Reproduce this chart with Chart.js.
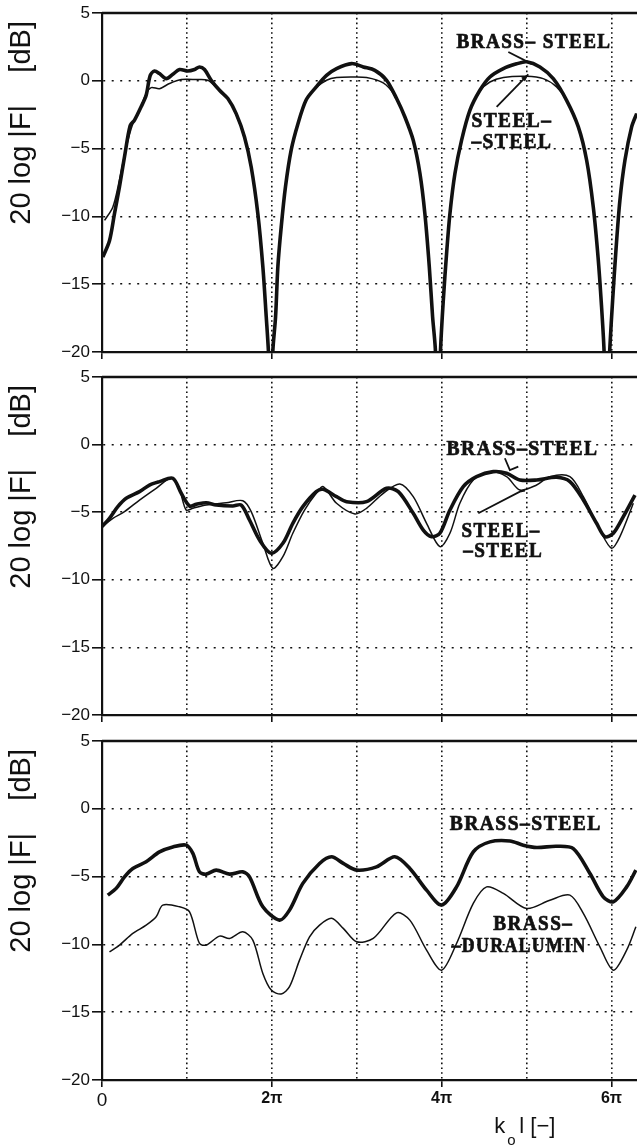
<!DOCTYPE html>
<html>
<head>
<meta charset="utf-8">
<script src="https://cdn.jsdelivr.net/npm/chart.js@4.4.1/dist/chart.umd.min.js"></script>
<style>
  html, body { margin: 0; padding: 0; background: #fff; }
  body { position: relative; width: 637px; height: 1146px; overflow: hidden; }
  canvas { position: absolute; left: 0; }
</style>
</head>
<body>
<canvas id="panel1" width="637" height="366" style="top:0px"></canvas>
<canvas id="panel2" width="637" height="367" style="top:362px"></canvas>
<canvas id="panel3" width="637" height="420" style="top:726px"></canvas>
<script>
// x values are k0*l expressed in units of pi
const xTickLabels = ['0', '', '2π', '', '4π', '', '6π'];
const yTicks = [5, 0, -5, -10, -15, -20];

// panel 1
const p1BrassSteelX = [0.01,0.088,0.147,0.206,0.265,0.332,0.383,0.462,0.52,0.568,0.618,0.677,0.756,0.834,0.913,1.01,1.09,1.148,1.207,1.286,1.384,1.482,1.58,1.678,1.757,1.835,1.894,1.934,1.961,1.99,2.012,2.044,2.071,2.11,2.161,2.228,2.306,2.405,2.523,2.644,2.762,2.939,3.077,3.213,3.351,3.469,3.567,3.665,3.744,3.802,3.854,3.893,3.925,3.955,3.987,4.019,4.058,4.097,4.156,4.234,4.332,4.45,4.568,4.726,4.882,5.0,5.157,5.314,5.471,5.609,5.707,5.785,5.844,5.883,5.91,5.945,5.981,6.013,6.052,6.099,6.158,6.237,6.296];
const p1BrassSteelY = [-13.0,-11.8,-9.8,-7.8,-5.6,-3.3,-2.9,-1.9,-1.07,0.4,0.72,0.53,0.16,0.48,0.83,0.72,0.83,1.02,0.83,0.04,-0.7,-1.31,-2.42,-4.14,-6.36,-9.8,-13.7,-17.4,-20.1,-25,-19.9,-17.4,-13.7,-10.8,-7.8,-5.1,-3.2,-1.4,-0.45,0.4,0.9,1.27,1.02,0.77,0.04,-1.31,-2.67,-4.39,-6.84,-9.8,-13.7,-17.4,-19.75,-25,-19.75,-16.2,-12.7,-9.8,-6.84,-4.39,-2.18,-0.7,0.28,0.9,1.25,1.4,1.02,0.16,-1.44,-3.4,-5.86,-9.3,-13.2,-16.7,-19.6,-25,-19.6,-16.2,-12.5,-8.8,-5.86,-3.4,-2.42];
const p1SteelSteelX = [0.03,0.128,0.206,0.285,0.363,0.442,0.52,0.58,0.677,0.795,0.933,1.11,1.246,1.345,1.482,1.58,1.678,1.757,1.835,1.894,1.934,1.961,1.99,2.012,2.044,2.071,2.11,2.161,2.228,2.306,2.405,2.523,2.644,2.762,2.939,3.116,3.312,3.43,3.567,3.665,3.744,3.802,3.854,3.893,3.925,3.955,3.987,4.019,4.058,4.097,4.156,4.234,4.332,4.45,4.568,4.726,5.0,5.196,5.353,5.471,5.609,5.707,5.785,5.844,5.883,5.91,5.945,5.981,6.013,6.052,6.099,6.158,6.237,6.296];
const p1SteelSteelY = [-10.3,-9.3,-7.3,-4.9,-3.16,-2.18,-0.95,-0.5,-0.58,-0.2,0.09,0.09,0.04,-0.5,-1.31,-2.5,-4.2,-6.4,-9.8,-13.7,-17.4,-20.1,-25,-19.9,-17.4,-13.7,-10.8,-7.8,-5.1,-3.2,-1.4,-0.5,0.04,0.24,0.28,0.24,-0.16,-0.95,-2.67,-4.39,-6.84,-9.8,-13.7,-17.4,-19.75,-25,-19.75,-16.2,-12.7,-9.8,-6.84,-4.39,-2.18,-0.75,-0.09,0.24,0.33,0.16,-0.45,-1.44,-3.4,-5.86,-9.3,-13.2,-16.7,-19.6,-25,-19.6,-16.2,-12.5,-8.8,-5.86,-3.4,-2.42];

// panel 2
const p2BrassSteelX = [0,0.088,0.186,0.285,0.442,0.559,0.677,0.834,0.933,1.031,1.11,1.227,1.345,1.541,1.64,1.737,1.855,1.993,2.13,2.247,2.365,2.523,2.605,2.762,2.88,3.115,3.351,3.489,3.665,3.783,3.881,3.979,4.097,4.254,4.411,4.608,4.764,4.921,5.118,5.353,5.51,5.668,5.824,5.922,6.021,6.139,6.276];
const p2BrassSteelY = [-6.07,-5.45,-4.59,-3.97,-3.48,-2.99,-2.74,-2.49,-3.6,-4.54,-4.42,-4.3,-4.47,-4.54,-4.47,-5.58,-7.06,-8.04,-7.3,-5.82,-4.59,-3.48,-3.31,-3.85,-4.22,-4.22,-3.23,-3.48,-5.08,-6.32,-6.81,-6.56,-4.84,-3.11,-2.37,-2.0,-2.12,-2.62,-2.62,-2.42,-2.74,-4.1,-5.82,-6.81,-6.56,-5.33,-3.73];
const p2SteelSteelX = [0,0.128,0.265,0.442,0.638,0.815,0.913,0.991,1.07,1.227,1.463,1.658,1.757,1.894,2.012,2.13,2.247,2.385,2.523,2.605,2.762,2.978,3.115,3.312,3.508,3.665,3.822,3.979,4.097,4.214,4.372,4.568,4.764,4.921,5.118,5.274,5.51,5.668,5.863,6.001,6.099,6.257];
const p2SteelSteelY = [-6.07,-5.45,-4.96,-4.1,-3.23,-2.49,-3.36,-4.84,-4.71,-4.47,-4.3,-4.15,-4.96,-7.3,-9.15,-8.29,-6.56,-4.84,-3.6,-3.11,-4.34,-5.13,-4.71,-3.6,-2.91,-3.85,-5.82,-7.55,-6.56,-4.34,-2.62,-2.0,-2.37,-3.36,-2.99,-2.37,-2.37,-3.85,-6.32,-7.67,-6.81,-4.34];

// panel 3
const p3BrassSteelX = [0.068,0.167,0.265,0.363,0.52,0.677,0.834,0.992,1.07,1.148,1.227,1.345,1.502,1.658,1.737,1.894,2.091,2.208,2.365,2.562,2.703,2.841,2.998,3.233,3.449,3.625,3.822,3.999,4.175,4.372,4.568,4.803,4.961,5.118,5.353,5.55,5.746,5.903,6.021,6.178,6.287];
const p3BrassSteelY = [-6.37,-5.87,-5.02,-4.4,-3.91,-3.18,-2.81,-2.68,-3.29,-4.65,-4.82,-4.52,-4.82,-4.65,-5.02,-7.23,-8.21,-7.47,-5.5,-4.03,-3.54,-4.03,-4.52,-4.28,-3.54,-4.4,-6.0,-7.1,-5.76,-3.18,-2.44,-2.37,-2.68,-2.85,-2.76,-2.93,-4.77,-6.49,-6.86,-5.76,-4.52];
const p3BrassDuralX = [0.088,0.206,0.363,0.52,0.638,0.716,0.913,1.031,1.148,1.227,1.384,1.502,1.658,1.776,1.894,1.993,2.11,2.208,2.326,2.444,2.562,2.703,2.841,2.998,3.194,3.469,3.625,3.822,3.999,4.175,4.372,4.529,4.726,5.0,5.274,5.51,5.668,5.863,6.021,6.178,6.287];
const p3BrassDuralY = [-10.55,-10.05,-9.19,-8.58,-7.96,-7.1,-7.23,-7.6,-9.93,-10.05,-9.39,-9.56,-9.07,-9.68,-12.14,-13.37,-13.66,-13.12,-11.16,-9.44,-8.58,-8.08,-8.82,-9.81,-9.56,-7.67,-8.21,-10.42,-11.9,-9.93,-6.98,-5.76,-6.24,-7.35,-6.74,-6.37,-7.72,-10.18,-11.9,-10.42,-8.7];

// curve labels, anchored in data units (x in pi, y in dB); w = width to fit the text into
const p1Notes = [
  { text: 'BRASS– STEEL', x: 4.175, y: 2.45, w: 155 },
  { text: 'STEEL–', x: 4.35, y: -3.43, w: 81 },
  { text: '–STEEL', x: 4.35, y: -4.98, w: 81 }
];
const p1Leaders = [
  { pts: [[4.785, 2.12], [5.06, 1.25]], arrow: false },
  { pts: [[4.647, -1.93], [5.02, 0.48]], arrow: true }
];
const p2Notes = [
  { text: 'BRASS–STEEL', x: 4.058, y: -0.77, w: 152 },
  { text: 'STEEL–', x: 4.234, y: -6.83, w: 79 },
  { text: '–STEEL', x: 4.254, y: -8.31, w: 80 }
];
const p2Leaders = [
  { pts: [[4.744, -1.01], [4.803, -1.88], [4.902, -1.63]], arrow: false },
  { pts: [[4.431, -5.08], [4.921, -3.48], [4.98, -3.4]], arrow: false }
];
const p3Notes = [
  { text: 'BRASS–STEEL', x: 4.094, y: -1.58, w: 152 },
  { text: 'BRASS–', x: 4.608, y: -8.95, w: 80 },
  { text: '–DURALUMIN', x: 4.117, y: -10.57, w: 135 }
];

const INK = '#111';
const NONE = 'rgba(0,0,0,0)';
const SANS = '"Liberation Sans", Arial, sans-serif';

const toPoints = (xs, ys) => xs.map((x, i) => ({ x: x, y: ys[i] }));
const fmtY = v => (v < 0 ? '\u2212' + Math.abs(v) : String(v));

const notesPlugin = {
  id: 'notes',
  afterDatasetsDraw(chart, args, opts) {
    const { ctx, chartArea, scales } = chart;
    const xs = scales.x, ys = scales.y;
    ctx.save();
    // solid frame line along the top of the plot
    ctx.strokeStyle = INK;
    ctx.lineWidth = 2.5;
    ctx.beginPath();
    ctx.moveTo(chartArea.left, chartArea.top);
    ctx.lineTo(chartArea.right, chartArea.top);
    ctx.stroke();

    // typewritten curve labels (a thin outline makes them read heavier, like the scan)
    ctx.fillStyle = INK;
    ctx.font = 'bold 20px "Liberation Serif", "DejaVu Serif", serif';
    ctx.textAlign = 'left';
    ctx.textBaseline = 'alphabetic';
    ctx.letterSpacing = '1.5px';
    ctx.lineWidth = 0.7;
    (opts.labels || []).forEach(n => {
      const px = xs.getPixelForValue(n.x), py = ys.getPixelForValue(n.y);
      ctx.fillText(n.text, px, py, n.w);
      ctx.strokeText(n.text, px, py, n.w);
    });
    ctx.letterSpacing = '0px';

    ctx.lineWidth = 1.8;
    (opts.leaders || []).forEach(l => {
      const p = l.pts.map(q => [xs.getPixelForValue(q[0]), ys.getPixelForValue(q[1])]);
      ctx.beginPath();
      ctx.moveTo(p[0][0], p[0][1]);
      p.slice(1).forEach(q => ctx.lineTo(q[0], q[1]));
      ctx.stroke();
      if (l.arrow) {
        const a = p[p.length - 2], b = p[p.length - 1];
        const ang = Math.atan2(b[1] - a[1], b[0] - a[0]);
        ctx.beginPath();
        ctx.moveTo(b[0], b[1]);
        ctx.lineTo(b[0] - 8 * Math.cos(ang - 0.35), b[1] - 8 * Math.sin(ang - 0.35));
        ctx.lineTo(b[0] - 8 * Math.cos(ang + 0.35), b[1] - 8 * Math.sin(ang + 0.35));
        ctx.closePath();
        ctx.fill();
      }
    });

    // x axis title: k (subscript o) l [-]
    if (opts.xTitleAt !== undefined) {
      const kx = xs.getPixelForValue(opts.xTitleAt);
      const by = chartArea.bottom;
      ctx.font = '22px ' + SANS;
      ctx.fillText('k', kx, by + 53);
      ctx.fillText('l [\u2212]', kx + 25, by + 53);
      ctx.font = '15px ' + SANS;
      ctx.fillText('o', kx + 13, by + 65);
    }
    ctx.restore();
  }
};

function makePanel(id, datasets, padTop, xHeight, showXLabels, notes) {
  return new Chart(document.getElementById(id), {
    type: 'line',
    data: { datasets: datasets },
    plugins: [notesPlugin],
    options: {
      responsive: false,
      animation: false,
      layout: { padding: { top: padTop, left: 0, right: 0, bottom: 0 } },
      plugins: {
        legend: { display: false },
        tooltip: { enabled: false },
        notes: notes
      },
      scales: {
        x: {
          type: 'linear',
          min: 0,
          max: 6.3,
          afterFit: s => { s.height = xHeight; },
          ticks: {
            stepSize: 1,
            includeBounds: false,
            autoSkip: false,
            maxRotation: 0,
            display: showXLabels,
            padding: 2,
            color: INK,
            callback: v => xTickLabels[v] ?? '',
            font: c => (c.tick && c.tick.value === 0)
              ? { family: SANS, size: 19 }
              : { family: SANS, size: 16, weight: 'bold' }
          },
          grid: {
            color: c => (c.tick && c.tick.value === 0) ? NONE : INK,
            lineWidth: 1.6,
            tickLength: 7,
            tickWidth: 1.6,
            tickColor: c => (c.tick && c.tick.value % 2 === 0) ? INK : NONE
          },
          border: { color: INK, width: 2.2, dash: [1.6, 3.2] }
        },
        y: {
          min: -20,
          max: 5,
          afterFit: s => { s.width = 102; },
          afterBuildTicks: s => { s.ticks = yTicks.map(v => ({ value: v })); },
          ticks: {
            padding: 2,
            color: INK,
            font: { family: SANS, size: 17 },
            callback: v => fmtY(v)
          },
          grid: {
            color: c => (c.tick && (c.tick.value === 5 || c.tick.value === -20)) ? NONE : INK,
            lineWidth: 1.6,
            tickLength: 10,
            tickWidth: 1.6,
            tickColor: INK
          },
          border: { color: INK, width: 2.2, dash: [2, 6.5] },
          title: {
            display: true,
            text: '20 log |F|    [dB] ',
            align: 'end',
            color: INK,
            font: { family: SANS, size: 29 },
            padding: { top: 5, bottom: 0 }
          }
        }
      }
    }
  });
}

const thick = { borderColor: INK, borderWidth: 3.6, pointRadius: 0, tension: 0.3, fill: false, clip: 0 };
const thin = { borderColor: INK, borderWidth: 1.5, pointRadius: 0, tension: 0.3, fill: false, clip: 0 };

makePanel('panel1', [
  Object.assign({ label: 'BRASS-STEEL', data: toPoints(p1BrassSteelX, p1BrassSteelY) }, thick),
  Object.assign({ label: 'STEEL-STEEL', data: toPoints(p1SteelSteelX, p1SteelSteelY) }, thin)
], 13, 14, false, { labels: p1Notes, leaders: p1Leaders });

makePanel('panel2', [
  Object.assign({ label: 'BRASS-STEEL', data: toPoints(p2BrassSteelX, p2BrassSteelY) }, thick),
  Object.assign({ label: 'STEEL-STEEL', data: toPoints(p2SteelSteelX, p2SteelSteelY) }, thin)
], 15, 14, false, { labels: p2Notes, leaders: p2Leaders });

makePanel('panel3', [
  Object.assign({ label: 'BRASS-STEEL', data: toPoints(p3BrassSteelX, p3BrassSteelY) }, thick),
  Object.assign({ label: 'BRASS-DURALUMIN', data: toPoints(p3BrassDuralX, p3BrassDuralY) }, thin)
], 15, 66, true, { labels: p3Notes, leaders: [], xTitleAt: 4.62 });
</script>
</body>
</html>
